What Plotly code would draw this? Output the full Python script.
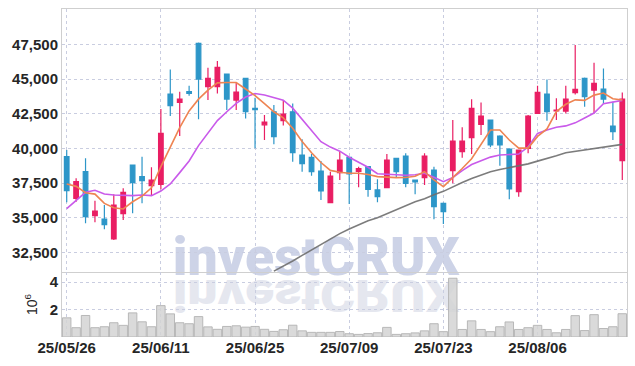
import plotly.graph_objects as go

dates = [
    "2025-05-26", "2025-05-27", "2025-05-28", "2025-05-29", "2025-05-30",
    "2025-06-02", "2025-06-04", "2025-06-05", "2025-06-09", "2025-06-10",
    "2025-06-11", "2025-06-12", "2025-06-13", "2025-06-16", "2025-06-17",
    "2025-06-18", "2025-06-19", "2025-06-20", "2025-06-23", "2025-06-24",
    "2025-06-25", "2025-06-26", "2025-06-27", "2025-06-30", "2025-07-01",
    "2025-07-02", "2025-07-03", "2025-07-04", "2025-07-07", "2025-07-08",
    "2025-07-09", "2025-07-10", "2025-07-11", "2025-07-14", "2025-07-15",
    "2025-07-16", "2025-07-17", "2025-07-18", "2025-07-21", "2025-07-22",
    "2025-07-23", "2025-07-24", "2025-07-25", "2025-07-28", "2025-07-29",
    "2025-07-30", "2025-07-31", "2025-08-01", "2025-08-04", "2025-08-05",
    "2025-08-06", "2025-08-07", "2025-08-08", "2025-08-11", "2025-08-12",
    "2025-08-13", "2025-08-14", "2025-08-18", "2025-08-19", "2025-08-20",
]

opens = [39400, 36396, 38318, 35146, 34906, 33464, 35290, 38799, 37958, 37309,
         37405, 43917, 43316, 44085, 47570, 44446, 44446, 45359, 43485, 45049,
         42880, 41700, 42640, 41995, 42640, 39520, 39350, 38366, 36083, 38246,
         39351, 38342, 38679, 37000, 37165, 39280, 39448, 37718, 37886, 38438,
         36036, 38390, 39760, 40769, 41730, 42043, 40889, 39953, 36877, 40000,
         42523, 43917, 42700, 42692, 44013, 45047, 44206, 44278, 41610, 39111]
highs = [39880, 37838, 39280, 36228, 35915, 36684, 37117, 38799, 39400, 38631,
         42836, 45695, 44085, 44518, 47642, 45816, 46296, 45380, 44731, 45080,
         43650, 42400, 43124, 43480, 43244, 40650, 39590, 39090, 38318, 39760,
         39400, 38680, 38700, 37766, 39590, 39300, 39640, 37718, 39640, 38679,
         36100, 42043, 41514, 43533, 43316, 42080, 40950, 40000, 39900, 42403,
         44518, 44974, 43605, 44518, 47450, 45119, 46176, 45768, 43365, 44037]
lows = [36107, 36156, 34594, 34666, 34161, 33400, 34834, 35315, 36035, 36636,
        37045, 42331, 40889, 43797, 42091, 43485, 43965, 42764, 42763, 42160,
        40002, 40600, 40300, 41650, 39036, 38320, 38030, 36275, 36050, 37718,
        35990, 37190, 36516, 36107, 37117, 37886, 37190, 36684, 37357, 34882,
        34544, 37477, 39327, 39592, 40961, 40073, 38751, 36324, 36516, 39640,
        42500, 41995, 42043, 42523, 43893, 43004, 42523, 43196, 40601, 37717]
closes = [36948, 37597, 35074, 35483, 34497, 35915, 36828, 37525, 37670, 37718,
          41082, 43076, 43557, 43965, 44999, 45047, 45840, 43557, 44050, 42640,
          42800, 41900, 40840, 42470, 39686, 38900, 38320, 36924, 38006, 39159,
          38150, 38535, 37045, 36516, 39159, 38318, 37477, 37573, 39448, 35795,
          35435, 40529, 40529, 42884, 42331, 40241, 40241, 37069, 39880, 42331,
          44037, 42644, 42764, 43557, 44254, 43725, 44686, 43557, 41202, 43557]

ma_short = [37430, 37260, 36800, 36700, 36030, 35720, 35630, 36150, 36560, 37160,
            38680, 40100, 41500, 42700, 43550, 44200, 44720, 44750, 44750, 44280,
            43810, 43220, 42640, 42200, 41450, 40500, 39680, 38980, 38410, 38280,
            38200, 38200, 38110, 37960, 37920, 37890, 37900, 37990, 38320, 37720,
            37240, 37860, 38550, 39250, 40300, 41320, 41320, 40600, 40020, 40020,
            40860, 41400, 42650, 43180, 43500, 43460, 43840, 43990, 43580, 43485]
ma_mid = [35650, 36230, 36830, 36980, 36710, 36640, 36590, 36590, 36640, 36590,
          36920, 37430, 38250, 39090, 40200, 41100, 42000, 42640, 43250, 43700,
          43960, 43850, 43660, 43480, 42900, 42100, 41230, 40480, 40090, 39800,
          39360, 38980, 38640, 38170, 38120, 38100, 38060, 38100, 38200, 37910,
          37600, 37900, 38400, 38830, 39100, 39370, 39520, 39540, 39590, 40100,
          41080, 41320, 41520, 41620, 41840, 42190, 42550, 43220, 43365, 43460]
ma_long = [None] * 22 + [
    31150, 31500, 31880, 32280, 32680, 33060, 33450, 33850, 34180, 34500,
    34780, 35000, 35300, 35580, 35880, 36150, 36360, 36660, 36900, 37230,
    37540, 37830, 38090, 38320, 38480, 38620, 38740, 38880, 39080, 39260,
    39470, 39690, 39790, 39900, 39980, 40100, 40180, 40290]

volumes_m = [1.40, 0.68, 1.57, 0.68, 0.75, 1.04, 0.85, 1.76, 1.11, 0.75,
             2.29, 1.69, 1.04, 0.97, 1.49, 0.74, 0.56, 0.77, 0.82, 0.72,
             0.77, 0.56, 0.41, 0.53, 0.86, 0.45, 0.34, 0.34, 0.34, 0.40,
             0.24, 0.19, 0.25, 0.31, 0.70, 0.19, 0.24, 0.30, 0.45, 0.97,
             0.39, 4.29, 0.55, 1.18, 0.55, 0.39, 0.75, 1.10, 0.55, 0.68,
             0.85, 0.55, 0.31, 0.55, 1.56, 0.47, 1.63, 0.62, 0.75, 1.70]
volumes = [v * 1e6 for v in volumes_m]

tick_dates = ["2025-05-26", "2025-06-11", "2025-06-25", "2025-07-09", "2025-07-23", "2025-08-06"]
tick_labels = ["25/05/26", "25/06/11", "25/06/25", "25/07/09", "25/07/23", "25/08/06"]
price_ticks = [32500, 35000, 37500, 40000, 42500, 45000, 47500]
vol_ticks = [2e6, 4e6]
vol_tick_labels = ["2", "4"]
watermark = "investCRUX"

UP = "#E91E63"
DOWN = "#2D96C8"
GRID = "#c9cde0"
AXIS = "#cfcfcf"
FONT = "Liberation Sans Narrow, Arial Narrow, sans-serif"
TXT = "#262626"

fig = go.Figure()

fig.add_trace(go.Bar(
    x=dates, y=volumes, xaxis="x2", yaxis="y2",
    marker=dict(color="rgba(212,212,212,0.85)", line=dict(color="rgba(178,178,178,0.9)", width=1)),
    hoverinfo="skip",
))

fig.add_trace(go.Candlestick(
    x=dates, open=opens, high=highs, low=lows, close=closes,
    increasing=dict(line=dict(color=UP, width=1.2), fillcolor=UP),
    decreasing=dict(line=dict(color=DOWN, width=1.2), fillcolor=DOWN),
    whiskerwidth=0,
))

fig.add_trace(go.Scatter(x=dates, y=ma_long, mode="lines",
                         line=dict(color="rgba(110,110,110,0.9)", width=1.6)))
fig.add_trace(go.Scatter(x=dates, y=ma_mid, mode="lines",
                         line=dict(color="#C95AEA", width=1.6)))
fig.add_trace(go.Scatter(x=dates, y=ma_short, mode="lines",
                         line=dict(color="#EE8452", width=1.6)))

xcommon = dict(
    type="category", range=[-0.5, 59.5],
    tickvals=tick_dates, ticktext=tick_labels,
    showgrid=True, gridcolor=GRID, griddash="dot", gridwidth=1,
    zeroline=False, ticks="", automargin=False,
)

fig.update_layout(
    width=635, height=366,
    margin=dict(l=62, r=8, t=9, b=29),
    paper_bgcolor="white", plot_bgcolor="white",
    showlegend=False, bargap=0.1,
    xaxis=dict(**xcommon, anchor="y", domain=[0, 1], showticklabels=False,
               rangeslider=dict(visible=False),
               showline=True, linecolor=AXIS, linewidth=1, mirror=True),
    xaxis2=dict(**xcommon, anchor="y2", domain=[0, 1], matches="x",
                showticklabels=True, showline=False,
                tickfont=dict(family=FONT, size=15, color=TXT, weight="bold")),
    yaxis=dict(domain=[0.198, 1], range=[31080, 50050], anchor="x",
               tickvals=price_ticks, tickformat=",d",
               tickfont=dict(family=FONT, size=15, color=TXT, weight="bold"),
               showgrid=True, gridcolor=GRID, griddash="dot", gridwidth=1,
               zeroline=False, showline=True, linecolor=AXIS, linewidth=1, mirror=True,
               ticks="", automargin=False),
    yaxis2=dict(domain=[0, 0.198], range=[0, 4.74e6], anchor="x2",
                tickvals=vol_ticks, ticktext=vol_tick_labels,
                tickfont=dict(family=FONT, size=15, color=TXT, weight="bold"),
                title=dict(text="10<sup>6</sup>", font=dict(family=FONT, size=14, color=TXT), standoff=8),
                showgrid=True, gridcolor=GRID, griddash="dot", gridwidth=1,
                zeroline=False, showline=True, linecolor=AXIS, linewidth=1, mirror=True,
                ticks="", automargin=False),
    shapes=[
        dict(type="rect", xref="paper", yref="paper", x0=0.2, x1=0.7, y0=0.2, y1=0.312,
             line=dict(width=0), fillcolor="rgba(0,0,0,0)", layer="below",
             label=dict(text=watermark, textposition="middle center",
                        font=dict(family="Roboto, sans-serif", size=53.5, color="#cdd3e7", weight=900))),
        dict(type="rect", xref="paper", yref="paper", x0=0.2, x1=0.7, y0=0.084, y1=0.196,
             line=dict(width=0), fillcolor="rgba(0,0,0,0)", layer="below",
             label=dict(text=watermark, textposition="middle center",
                        font=dict(family="Roboto, sans-serif", size=53.5, color="#e5e7ef", weight=900))),
    ],
)

post = """
(function(){
  document.body.style.margin = '0';
  document.body.style.padding = '0';
  var gd = document.getElementById('{plot_id}');
  var arr = Array.prototype.filter.call(gd.querySelectorAll('text'), function(t){ return t.textContent === 'investCRUX'; });
  arr.sort(function(a, b){ return a.getBoundingClientRect().top - b.getBoundingClientRect().top; });
  if (arr.length > 1) {
    var t = arr[arr.length - 1];
    t.style.transformBox = 'fill-box';
    t.style.transformOrigin = 'center';
    t.style.transform = 'scaleY(-0.82)';
  }
})();
"""

fig.write_html("out.html", post_script=post, config={"displayModeBar": False})
